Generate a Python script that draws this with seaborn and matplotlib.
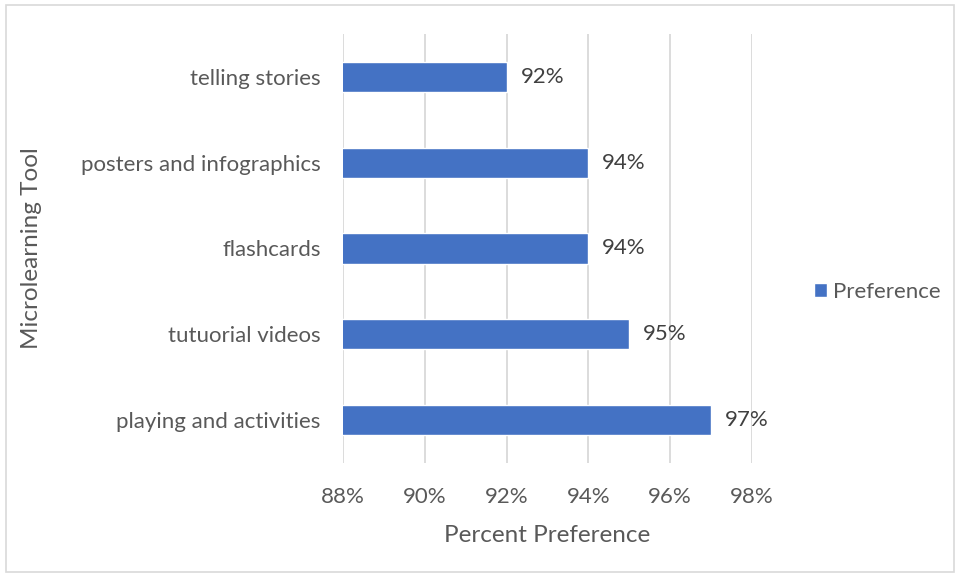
import matplotlib
matplotlib.use("Agg")
import matplotlib.pyplot as plt
import seaborn as sns
import pandas as pd
from matplotlib.patches import Rectangle
from matplotlib.ticker import FuncFormatter

categories = ["telling stories", "posters and infographics", "flashcards",
              "tutuorial videos", "playing and activities"]
values = [92, 94, 94, 95, 97]
series_name = "Preference"
x_ticks = [88, 90, 92, 94, 96, 98]

df = pd.DataFrame({"tool": categories, "pref": values, "series": series_name})

sns.set_theme(style="white")
plt.rcParams["font.family"] = ["Lato", "DejaVu Sans"]

BLUE = "#4472C4"
GRID = "#D9D9D9"
TXT = "#595959"

fig = plt.figure(figsize=(9.56, 5.75), dpi=100)
ax = fig.add_axes([343/956, 1-463/575, 409/956, 429/575])

sns.barplot(data=df, x="pref", y="tool", hue="series", palette=[BLUE],
            orient="h", width=0.35, ax=ax, legend=False, saturation=1)

ax.set_xlim(88, 98)
ax.set_xticks(x_ticks)
ax.xaxis.set_major_formatter(FuncFormatter(lambda v, p: f"{v:.0f}%"))
ax.grid(axis="x", color=GRID, linewidth=1.3)
ax.set_axisbelow(True)
for s in ax.spines.values():
    s.set_visible(False)
ax.tick_params(axis="both", length=0, labelsize=16, labelcolor=TXT)
ax.tick_params(axis="x", pad=17)
ax.tick_params(axis="y", pad=16)

ax.set_xlabel("Percent Preference", fontsize=17.5, color=TXT, labelpad=13)
ax.set_ylabel("Microlearning Tool", fontsize=17.5, color=TXT, labelpad=28)

for c in ax.containers:
    ax.bar_label(c, labels=[f"{v:.0f}%" for v in c.datavalues],
                 padding=10, fontsize=16, color="#404040")

handle = Rectangle((0, 0), 1, 1, facecolor=BLUE)
fig.legend([handle], [series_name], loc="center left",
           bbox_to_anchor=(805/956, 1-292/575), frameon=False,
           fontsize=16, handlelength=0.6, handleheight=0.6,
           handletextpad=0.25, labelcolor=TXT, borderaxespad=0)

fig.patches.append(Rectangle((6/956, 3/575), 948/956, 567/575,
                             transform=fig.transFigure, fill=False,
                             edgecolor="#D9D9D9", linewidth=1.2))

fig.savefig("out.png", dpi=100, facecolor="white")
